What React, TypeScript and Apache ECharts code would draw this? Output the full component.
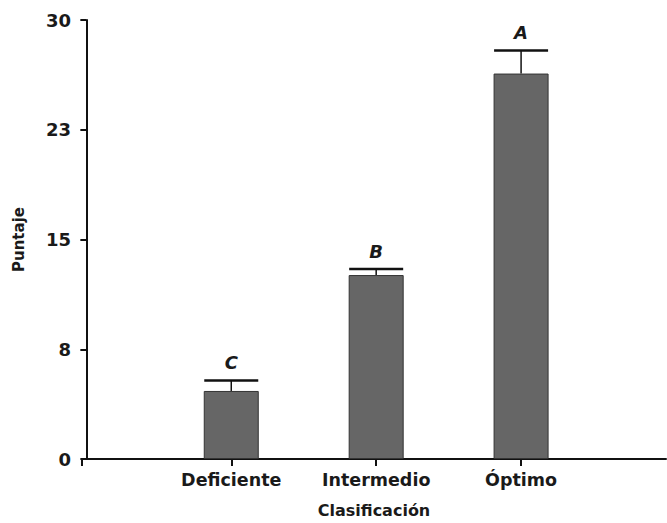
import React, { useEffect, useRef } from "react";
import * as echarts from "echarts";

const categories = ["Deficiente", "Intermedio", "Óptimo"];
const means = [4.65, 12.57, 26.34];
const upperErrors = [5.37, 12.98, 27.92];
const groupLetters = ["C", "B", "A"];
const yTicks = [0, 7.5, 15, 22.5, 30];

const FONT = "DejaVu Sans";

export default function App() {
  const ref = useRef<HTMLDivElement>(null);
  useEffect(() => {
    if (!ref.current) return;
    const chart = echarts.init(ref.current, undefined, { renderer: "svg" });
    const xMin = -0.03;
    const barData = categories.map((_, i) => [i + 1, means[i]]);
    const errData = categories.map((_, i) => [i + 1, means[i], upperErrors[i], groupLetters[i]]);
    chart.setOption({
      animation: false,
      backgroundColor: "#ffffff",
      grid: { left: 82, right: 1, top: 20, bottom: 62, containLabel: false },
      xAxis: {
        type: "value",
        min: xMin,
        max: 4,
        splitLine: { show: false },
        axisLine: { show: true, onZero: false, lineStyle: { color: "#111", width: 2 } },
        axisTick: {
          show: true,
          length: 7,
          customValues: [xMin, 1, 2, 3],
          lineStyle: { color: "#111", width: 2 },
        },
        axisLabel: {
          show: true,
          customValues: [1, 2, 3],
          formatter: (v: number) => categories[Math.round(v) - 1] ?? "",
          color: "#1a1a1a",
          fontFamily: FONT,
          fontWeight: "bold",
          fontSize: 17.5,
          margin: 12,
        },
        name: "Clasificación",
        nameLocation: "middle",
        nameGap: 43,
        nameTextStyle: { color: "#1a1a1a", fontFamily: FONT, fontWeight: "bold", fontSize: 16 },
      },
      yAxis: {
        type: "value",
        min: 0,
        max: 30,
        interval: 7.5,
        splitLine: { show: false },
        axisLine: { show: true, lineStyle: { color: "#111", width: 2 } },
        axisTick: { show: true, length: 6, customValues: yTicks, lineStyle: { color: "#111", width: 2 } },
        axisLabel: {
          formatter: (v: number) => String(Math.round(v)),
          color: "#1a1a1a",
          fontFamily: FONT,
          fontWeight: "bold",
          fontSize: 18,
          margin: 11,
        },
        name: "Puntaje",
        nameLocation: "middle",
        nameGap: 56,
        nameTextStyle: { color: "#1a1a1a", fontFamily: FONT, fontWeight: "bold", fontSize: 15 },
      },
      series: [
        {
          type: "bar",
          data: barData,
          barWidth: 55,
          itemStyle: { color: "#666666", borderColor: "#333333", borderWidth: 1 },
          z: 2,
        },
        {
          type: "custom",
          data: errData,
          z: 3,
          renderItem: (params: any, api: any) => {
            const xv = api.value(0);
            const base = api.coord([xv, api.value(1)]);
            const top = api.coord([xv, api.value(2)]);
            const half = 27;
            const letter = groupLetters[params.dataIndex];
            return {
              type: "group",
              children: [
                {
                  type: "line",
                  shape: { x1: base[0], y1: base[1], x2: top[0], y2: top[1] },
                  style: { stroke: "#111", lineWidth: 1.5 },
                },
                {
                  type: "line",
                  shape: { x1: top[0] - half, y1: top[1], x2: top[0] + half, y2: top[1] },
                  style: { stroke: "#111", lineWidth: 2.5 },
                },
                {
                  type: "text",
                  style: {
                    text: letter,
                    x: top[0],
                    y: top[1] - 9,
                    textAlign: "center",
                    textVerticalAlign: "bottom",
                    fill: "#1a1a1a",
                    font: `italic bold 18px "${FONT}"`,
                  },
                },
              ],
            };
          },
        },
      ],
    });
    return () => chart.dispose();
  }, []);
  return (
    <div
      ref={ref}
      style={{ position: "absolute", left: 0, top: 0, width: 667, height: 523, background: "#fff" }}
    />
  );
}
